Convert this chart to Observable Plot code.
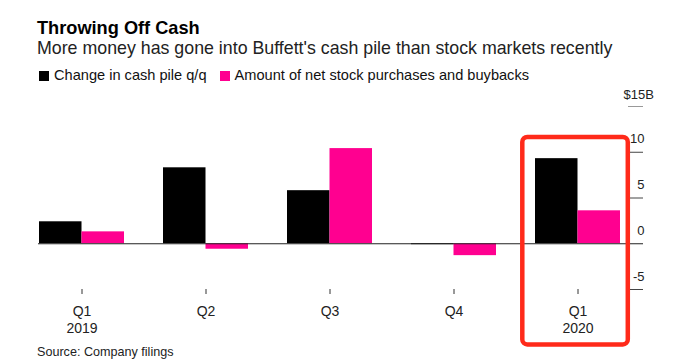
<!DOCTYPE html>
<html>
<head>
<meta charset="utf-8">
<script src="https://cdn.jsdelivr.net/npm/d3@7"></script>
<script src="https://cdn.jsdelivr.net/npm/@observablehq/plot@0.6"></script>
<style>
  html, body { margin: 0; padding: 0; background: #fff; }
  body { width: 673px; height: 364px; position: relative; overflow: hidden; font-family: "Liberation Sans", Arial, Helvetica, sans-serif; color: #000; }
  .t { position: absolute; left: 37px; line-height: 1; white-space: nowrap; }
  #title { top: 19px; font-size: 18.2px; font-weight: bold; }
  #subtitle { top: 40.3px; font-size: 17.8px; color: #222; }
  #legend { top: 68px; font-size: 14.6px; color: #111; left: 39px; }
  #legend .sw { display: inline-block; width: 10px; height: 10px; margin-right: 5px; vertical-align: -1px; }
  #legend .item { margin-right: 13px; }
  #chart { position: absolute; left: 0; top: 80px; }
  #caption { top: 346px; font-size: 12.6px; color: #222; }
</style>
</head>
<body>
<div id="title" class="t">Throwing Off Cash</div>
<div id="subtitle" class="t">More money has gone into Buffett's cash pile than stock markets recently</div>
<div id="legend" class="t"></div>
<div id="chart"></div>
<div id="caption" class="t">Source: Company filings</div>
<script>
const quarters = ["Q1 2019", "Q2 2019", "Q3 2019", "Q4 2019", "Q1 2020"];
const tickLabels = ["Q1\n2019", "Q2", "Q3", "Q4", "Q1\n2020"];
const seriesNames = ["Change in cash pile q/q", "Amount of net stock purchases and buybacks"];
const seriesColors = ["#000000", "#ff0090"];
const cashChange = [2.4, 8.3, 5.8, -0.1, 9.3];
const netPurchases = [1.3, -0.6, 10.4, -1.3, 3.6];
const yTicks = [-5, 0, 5, 10];
const yTop = 15;
const highlighted = ["Q1 2020"];

const cashData = quarters.map((q, i) => ({quarter: q, value: cashChange[i]}));
const buyData = quarters.map((q, i) => ({quarter: q, value: netPurchases[i]}));

// legend
const legend = document.getElementById("legend");
seriesNames.forEach((name, i) => {
  const s = document.createElement("span");
  s.className = "item";
  s.innerHTML = `<span class="sw" style="background:${seriesColors[i]}"></span>${name}`;
  legend.appendChild(s);
});

const W = 673, H = 268;
const half = 42.5;
const chart = Plot.plot({
  width: W,
  height: H,
  marginTop: 26,
  marginBottom: 59,
  marginLeft: 38,
  marginRight: 30,
  style: {fontFamily: "'Liberation Sans', Arial, sans-serif", fontSize: "13px", color: "#222", overflow: "visible"},
  x: {type: "band", domain: quarters, range: [37.7, 620.7], paddingInner: 0.317, paddingOuter: 0, align: 0.5, label: null},
  y: {domain: [-5, yTop], axis: null},
  marks: [
    Plot.barY(cashData, {x: "quarter", y: "value", fill: seriesColors[0], insetRight: half}),
    Plot.barY(buyData, {x: "quarter", y: "value", fill: seriesColors[1], insetLeft: half}),
    Plot.ruleY([0], {stroke: "#222", strokeWidth: 1}),
    Plot.ruleY(yTicks.filter(d => d !== 0), {y: d => d, stroke: "#444", strokeWidth: 1, insetLeft: 590}),
    Plot.ruleY([yTop], {stroke: "#999", strokeWidth: 1, insetLeft: 590}),
    Plot.text(yTicks, {y: d => d, text: d => String(d), frameAnchor: "right", textAnchor: "end", dx: 1, dy: -13, fill: "#222", fontSize: 13}),
    Plot.text([yTop], {y: d => d, text: d => `$${d}B`, frameAnchor: "right", textAnchor: "start", dx: -20, dy: -12, fill: "#222", fontSize: 13}),
    Plot.axisX({tickSize: 5, tickPadding: 10, stroke: "#333", fill: "#222", fontSize: 14, lineHeight: 1.2, label: null,
      tickFormat: d => tickLabels[quarters.indexOf(d)]}),
    Plot.barY(highlighted, {x: d => d, y1: -5, y2: yTop, fill: "none", stroke: "#ff2a1a", strokeWidth: 4.5, rx: 5,
      insetLeft: -12.7, insetRight: -7.8, insetTop: 31, insetBottom: -55.4})
  ]
});
document.getElementById("chart").appendChild(chart);
</script>
</body>
</html>
